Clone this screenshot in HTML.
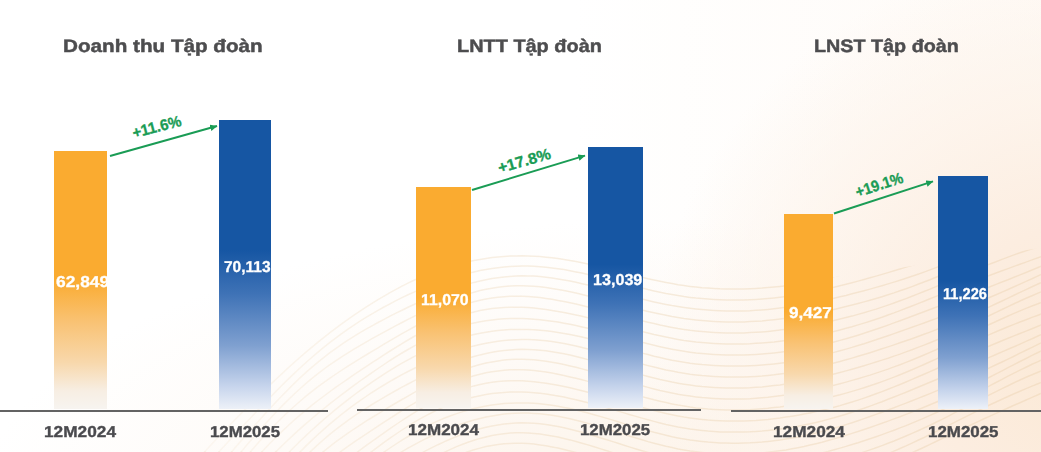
<!DOCTYPE html>
<html>
<head>
<meta charset="utf-8">
<style>
html,body{margin:0;padding:0;}
body{width:1041px;height:452px;position:relative;overflow:hidden;font-family:"Liberation Sans",sans-serif;font-weight:bold;text-rendering:geometricPrecision;
background:
 radial-gradient(ellipse 440px 420px at 1090px 370px, #fbe9d5 0%, #fcede0 35%, rgba(253,242,232,0.75) 65%, rgba(255,255,255,0) 100%),
 radial-gradient(ellipse 680px 280px at 660px 500px, rgba(252,241,229,0.9) 0%, rgba(253,246,239,0.55) 55%, rgba(255,255,255,0) 100%),
 linear-gradient(to right, rgba(255,255,255,0) 55%, rgba(254,246,238,0.5) 100%),
 #ffffff;}
.bar{position:absolute;}
.o{background:linear-gradient(to bottom,#faab30 0%,#faab30 50%,#f9c273 66%,#f8d8ac 82%,#f7eee3 93%,#f7f4f0 100%);}
.b{background:linear-gradient(to bottom,#1656a3 0%,#1656a3 45%,#3e72b6 60%,#7fa0d0 78%,#c6d4ec 92%,#edf1f8 100%);}
.ax{position:absolute;height:2px;background:#636363;}
.t{position:absolute;white-space:nowrap;color:#4d4d4f;font-size:18px;line-height:1;transform-origin:0 0;-webkit-text-stroke:0.45px #4d4d4f;}
.v{position:absolute;white-space:nowrap;color:#fff;font-size:15.8px;line-height:1;transform-origin:0 0;-webkit-text-stroke:0.3px #fff;}
.c{position:absolute;white-space:nowrap;color:#4a4a4e;font-size:15.7px;line-height:1;transform-origin:0 0;-webkit-text-stroke:0.35px #4a4a4e;}
.g{position:absolute;white-space:nowrap;color:#1a9c55;font-size:15.5px;line-height:1;-webkit-text-stroke:0.35px #1a9c55;}
svg{position:absolute;left:0;top:0;}
</style>
</head>
<body>
<svg width="1041" height="452" viewBox="0 0 1041 452" fill="none" stroke="#e6c9a0" stroke-width="1.5" opacity="0.32"><defs><filter id="bl" x="0" y="0" width="1" height="1"><feGaussianBlur stdDeviation="0.45"/></filter><linearGradient id="mg" x1="0" y1="0" x2="1041" y2="0" gradientUnits="userSpaceOnUse"><stop offset="0.18" stop-color="#fff" stop-opacity="0.3"/><stop offset="0.42" stop-color="#fff" stop-opacity="0.8"/><stop offset="0.6" stop-color="#fff" stop-opacity="1"/></linearGradient><mask id="wm" maskUnits="userSpaceOnUse" x="0" y="0" width="1041" height="452"><rect x="0" y="0" width="1041" height="452" fill="url(#mg)"/></mask><clipPath id="wc"><path d="M0,452 L150,452 L280,320 L400,262 L520,248 L640,262 L720,282 L800,282 L870,272 L940,262 L1041,248 L1041,452 Z"/></clipPath></defs><g mask="url(#wm)"><g filter="url(#bl)" clip-path="url(#wc)">
<path d="M192,465.7 L198,459.1 L204,452.5 L210,446.0 L216,439.6 L222,433.2 L228,426.9 L234,420.7 L240,414.6 L246,408.5 L252,402.5 L258,396.5 L264,390.7 L270,384.9 L276,379.2 L282,373.6 L288,368.0 L294,362.6 L300,357.3 L306,352.1 L312,347.1 L318,342.2 L324,337.4 L330,332.7 L336,328.1 L342,323.7 L348,319.4 L354,315.2 L360,311.2 L366,307.2 L372,303.4 L378,299.7 L384,296.2 L390,292.7 L396,289.4 L402,286.2 L408,283.2 L414,280.3 L420,277.6 L426,275.0 L432,272.6 L438,270.4 L444,268.3 L450,266.4 L456,264.7 L462,263.1 L468,261.7 L474,260.5 L480,259.4 L486,258.4 L492,257.6 L498,257.0 L504,256.5 L510,256.1 L516,255.9 L522,255.8 L528,256.0 L534,256.2 L540,256.6 L546,257.2 L552,257.8 L558,258.6 L564,259.5 L570,260.5 L576,261.6 L582,262.8 L588,264.1 L594,265.5 L600,266.9 L606,268.3 L612,269.8 L618,271.3 L624,272.8 L630,274.3 L636,275.8 L642,277.2 L648,278.7 L654,280.0 L660,281.3 L666,282.5 L672,283.6 L678,284.7 L684,285.6 L690,286.4 L696,287.1 L702,287.7 L708,288.1 L714,288.5 L720,288.8 L726,288.9 L732,289.0 L738,289.0 L744,288.9 L750,288.7 L756,288.4 L762,288.1 L768,287.6 L774,287.0 L780,286.4 L786,285.7 L792,284.8 L798,283.9 L804,282.9 L810,281.8 L816,280.6 L822,279.4 L828,278.1 L834,276.6 L840,275.2 L846,273.6 L852,272.0 L858,270.4 L864,268.7 L870,266.9 L876,265.1 L882,263.3 L888,261.4 L894,259.6 L900,257.7 L906,255.8 L912,253.9 L918,251.9 L924,250.0 L930,248.0 L936,246.0 L942,244.0 L948,242.0 L954,239.9 L960,237.8 L966,235.7 L972,233.6 L978,231.4 L984,229.2 L990,226.9 L996,224.6 L1002,222.2 L1008,219.8 L1014,217.4 L1020,214.9 L1026,212.5 L1032,210.0 L1038,207.5 L1044,205.0"/>
<path d="M204,468.0 L210,461.5 L216,455.0 L222,448.5 L228,442.1 L234,435.6 L240,429.2 L246,422.8 L252,416.4 L258,410.0 L264,403.8 L270,397.5 L276,391.4 L282,385.3 L288,379.4 L294,373.6 L300,368.0 L306,362.5 L312,357.2 L318,352.1 L324,347.1 L330,342.4 L336,337.8 L342,333.4 L348,329.1 L354,325.1 L360,321.2 L366,317.4 L372,313.8 L378,310.4 L384,307.0 L390,303.8 L396,300.7 L402,297.7 L408,294.8 L414,292.1 L420,289.5 L426,287.0 L432,284.7 L438,282.4 L444,280.3 L450,278.4 L456,276.5 L462,274.8 L468,273.3 L474,271.9 L480,270.6 L486,269.5 L492,268.5 L498,267.7 L504,267.0 L510,266.5 L516,266.2 L522,266.1 L528,266.1 L534,266.3 L540,266.7 L546,267.2 L552,267.9 L558,268.7 L564,269.6 L570,270.7 L576,271.9 L582,273.1 L588,274.5 L594,275.9 L600,277.4 L606,278.9 L612,280.4 L618,282.0 L624,283.6 L630,285.1 L636,286.6 L642,288.1 L648,289.6 L654,290.9 L660,292.2 L666,293.5 L672,294.6 L678,295.6 L684,296.6 L690,297.4 L696,298.1 L702,298.6 L708,299.1 L714,299.5 L720,299.8 L726,300.0 L732,300.0 L738,300.0 L744,299.9 L750,299.7 L756,299.4 L762,299.0 L768,298.5 L774,297.9 L780,297.2 L786,296.5 L792,295.6 L798,294.7 L804,293.6 L810,292.5 L816,291.3 L822,290.0 L828,288.7 L834,287.3 L840,285.8 L846,284.3 L852,282.7 L858,281.1 L864,279.5 L870,277.8 L876,276.1 L882,274.4 L888,272.6 L894,270.8 L900,269.0 L906,267.1 L912,265.2 L918,263.3 L924,261.3 L930,259.3 L936,257.2 L942,255.1 L948,252.9 L954,250.7 L960,248.4 L966,246.1 L972,243.7 L978,241.3 L984,238.8 L990,236.3 L996,233.7 L1002,231.1 L1008,228.5 L1014,225.9 L1020,223.3 L1026,220.7 L1032,218.1 L1038,215.6 L1044,213.2"/>
<path d="M216,469.6 L222,462.8 L228,455.9 L234,449.0 L240,442.1 L246,435.2 L252,428.4 L258,421.7 L264,415.0 L270,408.4 L276,402.0 L282,395.7 L288,389.6 L294,383.6 L300,377.9 L306,372.4 L312,367.1 L318,362.1 L324,357.3 L330,352.7 L336,348.3 L342,344.2 L348,340.2 L354,336.3 L360,332.7 L366,329.2 L372,325.8 L378,322.5 L384,319.3 L390,316.2 L396,313.1 L402,310.2 L408,307.3 L414,304.5 L420,301.8 L426,299.2 L432,296.7 L438,294.2 L444,291.9 L450,289.8 L456,287.7 L462,285.8 L468,284.1 L474,282.4 L480,281.0 L486,279.7 L492,278.6 L498,277.7 L504,276.9 L510,276.4 L516,276.0 L522,275.8 L528,275.9 L534,276.1 L540,276.6 L546,277.2 L552,277.9 L558,278.9 L564,279.9 L570,281.1 L576,282.3 L582,283.7 L588,285.1 L594,286.6 L600,288.1 L606,289.7 L612,291.3 L618,292.9 L624,294.5 L630,296.0 L636,297.6 L642,299.1 L648,300.5 L654,301.9 L660,303.2 L666,304.4 L672,305.6 L678,306.6 L684,307.5 L690,308.3 L696,309.0 L702,309.6 L708,310.1 L714,310.5 L720,310.8 L726,311.0 L732,311.0 L738,311.0 L744,310.9 L750,310.7 L756,310.3 L762,309.9 L768,309.4 L774,308.8 L780,308.1 L786,307.3 L792,306.4 L798,305.5 L804,304.4 L810,303.3 L816,302.1 L822,300.9 L828,299.6 L834,298.2 L840,296.8 L846,295.4 L852,293.8 L858,292.3 L864,290.7 L870,289.1 L876,287.4 L882,285.7 L888,283.9 L894,282.1 L900,280.2 L906,278.3 L912,276.3 L918,274.2 L924,272.1 L930,269.9 L936,267.6 L942,265.3 L948,262.9 L954,260.5 L960,258.0 L966,255.4 L972,252.8 L978,250.2 L984,247.6 L990,244.9 L996,242.2 L1002,239.6 L1008,237.0 L1014,234.4 L1020,231.8 L1026,229.4 L1032,227.0 L1038,224.6 L1044,222.4"/>
<path d="M228,467.8 L234,460.5 L240,453.3 L246,446.1 L252,439.1 L258,432.1 L264,425.3 L270,418.7 L276,412.3 L282,406.0 L288,400.0 L294,394.2 L300,388.7 L306,383.4 L312,378.4 L318,373.6 L324,369.0 L330,364.7 L336,360.6 L342,356.6 L348,352.8 L354,349.1 L360,345.6 L366,342.1 L372,338.7 L378,335.4 L384,332.1 L390,328.9 L396,325.7 L402,322.5 L408,319.4 L414,316.4 L420,313.4 L426,310.5 L432,307.7 L438,305.1 L444,302.5 L450,300.1 L456,297.9 L462,295.8 L468,293.9 L474,292.2 L480,290.6 L486,289.3 L492,288.2 L498,287.3 L504,286.6 L510,286.1 L516,285.8 L522,285.8 L528,285.9 L534,286.3 L540,286.8 L546,287.6 L552,288.4 L558,289.4 L564,290.6 L570,291.8 L576,293.1 L582,294.5 L588,296.0 L594,297.5 L600,299.1 L606,300.6 L612,302.2 L618,303.8 L624,305.4 L630,306.9 L636,308.5 L642,310.0 L648,311.4 L654,312.8 L660,314.1 L666,315.3 L672,316.5 L678,317.5 L684,318.5 L690,319.3 L696,320.0 L702,320.6 L708,321.1 L714,321.5 L720,321.8 L726,322.0 L732,322.0 L738,322.0 L744,321.9 L750,321.6 L756,321.3 L762,320.9 L768,320.3 L774,319.7 L780,319.0 L786,318.3 L792,317.4 L798,316.4 L804,315.4 L810,314.4 L816,313.2 L822,312.0 L828,310.7 L834,309.4 L840,308.0 L846,306.6 L852,305.1 L858,303.5 L864,301.9 L870,300.2 L876,298.5 L882,296.7 L888,294.8 L894,292.9 L900,290.8 L906,288.8 L912,286.6 L918,284.3 L924,282.0 L930,279.7 L936,277.2 L942,274.7 L948,272.2 L954,269.6 L960,267.0 L966,264.4 L972,261.7 L978,259.1 L984,256.5 L990,253.9 L996,251.3 L1002,248.8 L1008,246.4 L1014,244.0 L1020,241.7 L1026,239.4 L1032,237.3 L1038,235.2 L1044,233.2"/>
<path d="M240,464.1 L246,456.9 L252,449.9 L258,443.1 L264,436.4 L270,430.0 L276,423.8 L282,417.8 L288,412.0 L294,406.5 L300,401.2 L306,396.2 L312,391.3 L318,386.7 L324,382.3 L330,378.1 L336,374.0 L342,370.0 L348,366.1 L354,362.3 L360,358.6 L366,355.0 L372,351.4 L378,347.8 L384,344.2 L390,340.7 L396,337.2 L402,333.7 L408,330.3 L414,327.0 L420,323.7 L426,320.6 L432,317.6 L438,314.8 L444,312.1 L450,309.6 L456,307.3 L462,305.3 L468,303.4 L474,301.7 L480,300.3 L486,299.0 L492,298.0 L498,297.2 L504,296.7 L510,296.3 L516,296.2 L522,296.3 L528,296.5 L534,297.0 L540,297.6 L546,298.4 L552,299.3 L558,300.4 L564,301.5 L570,302.8 L576,304.1 L582,305.5 L588,306.9 L594,308.4 L600,310.0 L606,311.5 L612,313.1 L618,314.7 L624,316.2 L630,317.8 L636,319.3 L642,320.8 L648,322.2 L654,323.6 L660,325.0 L666,326.2 L672,327.4 L678,328.5 L684,329.4 L690,330.3 L696,331.0 L702,331.6 L708,332.1 L714,332.5 L720,332.8 L726,333.0 L732,333.0 L738,333.0 L744,332.9 L750,332.6 L756,332.3 L762,331.9 L768,331.4 L774,330.8 L780,330.1 L786,329.3 L792,328.5 L798,327.6 L804,326.6 L810,325.5 L816,324.4 L822,323.2 L828,321.9 L834,320.5 L840,319.1 L846,317.6 L852,316.1 L858,314.4 L864,312.7 L870,310.9 L876,309.1 L882,307.1 L888,305.1 L894,303.0 L900,300.8 L906,298.6 L912,296.3 L918,293.9 L924,291.5 L930,289.1 L936,286.6 L942,284.0 L948,281.5 L954,279.0 L960,276.4 L966,273.9 L972,271.4 L978,268.9 L984,266.4 L990,264.0 L996,261.7 L1002,259.4 L1008,257.1 L1014,254.9 L1020,252.8 L1026,250.7 L1032,248.7 L1038,246.7 L1044,244.7"/>
<path d="M246,469.1 L252,462.3 L258,455.7 L264,449.4 L270,443.2 L276,437.2 L282,431.4 L288,425.7 L294,420.3 L300,415.1 L306,410.1 L312,405.2 L318,400.5 L324,396.0 L330,391.5 L336,387.2 L342,383.0 L348,378.8 L354,374.7 L360,370.6 L366,366.6 L372,362.7 L378,358.8 L384,354.9 L390,351.0 L396,347.3 L402,343.6 L408,340.0 L414,336.5 L420,333.2 L426,330.1 L432,327.1 L438,324.2 L444,321.6 L450,319.2 L456,317.1 L462,315.1 L468,313.4 L474,311.9 L480,310.6 L486,309.5 L492,308.6 L498,308.0 L504,307.5 L510,307.3 L516,307.2 L522,307.3 L528,307.6 L534,308.1 L540,308.7 L546,309.5 L552,310.4 L558,311.4 L564,312.5 L570,313.7 L576,315.0 L582,316.3 L588,317.7 L594,319.2 L600,320.7 L606,322.2 L612,323.8 L618,325.3 L624,326.9 L630,328.5 L636,330.0 L642,331.5 L648,333.0 L654,334.5 L660,335.8 L666,337.1 L672,338.3 L678,339.4 L684,340.4 L690,341.2 L696,342.0 L702,342.6 L708,343.1 L714,343.5 L720,343.8 L726,344.0 L732,344.1 L738,344.0 L744,343.9 L750,343.7 L756,343.3 L762,342.9 L768,342.4 L774,341.9 L780,341.2 L786,340.4 L792,339.6 L798,338.7 L804,337.7 L810,336.6 L816,335.4 L822,334.2 L828,332.8 L834,331.4 L840,329.9 L846,328.3 L852,326.7 L858,324.9 L864,323.1 L870,321.2 L876,319.2 L882,317.2 L888,315.0 L894,312.9 L900,310.6 L906,308.3 L912,306.0 L918,303.6 L924,301.2 L930,298.8 L936,296.4 L942,294.0 L948,291.6 L954,289.2 L960,286.8 L966,284.5 L972,282.1 L978,279.8 L984,277.5 L990,275.3 L996,273.0 L1002,270.8 L1008,268.6 L1014,266.4 L1020,264.3 L1026,262.1 L1032,259.9 L1038,257.8 L1044,255.6"/>
<path d="M264,463.8 L270,457.6 L276,451.6 L282,445.7 L288,440.0 L294,434.4 L300,428.9 L306,423.6 L312,418.5 L318,413.4 L324,408.5 L330,403.7 L336,399.0 L342,394.4 L348,389.8 L354,385.4 L360,381.0 L366,376.8 L372,372.6 L378,368.5 L384,364.5 L390,360.5 L396,356.7 L402,353.0 L408,349.5 L414,346.1 L420,342.9 L426,339.8 L432,337.0 L438,334.4 L444,331.9 L450,329.7 L456,327.7 L462,325.9 L468,324.3 L474,322.9 L480,321.7 L486,320.7 L492,319.9 L498,319.3 L504,318.8 L510,318.6 L516,318.5 L522,318.5 L528,318.8 L534,319.2 L540,319.7 L546,320.4 L552,321.2 L558,322.1 L564,323.2 L570,324.3 L576,325.5 L582,326.9 L588,328.2 L594,329.7 L600,331.2 L606,332.7 L612,334.3 L618,335.9 L624,337.5 L630,339.1 L636,340.7 L642,342.3 L648,343.8 L654,345.3 L660,346.7 L666,348.0 L672,349.2 L678,350.3 L684,351.3 L690,352.2 L696,353.0 L702,353.6 L708,354.1 L714,354.5 L720,354.8 L726,355.0 L732,355.1 L738,355.1 L744,354.9 L750,354.7 L756,354.4 L762,354.0 L768,353.5 L774,352.9 L780,352.2 L786,351.5 L792,350.6 L798,349.6 L804,348.6 L810,347.4 L816,346.2 L822,344.9 L828,343.5 L834,342.0 L840,340.4 L846,338.7 L852,337.0 L858,335.2 L864,333.3 L870,331.3 L876,329.3 L882,327.2 L888,325.1 L894,322.9 L900,320.7 L906,318.5 L912,316.3 L918,314.0 L924,311.7 L930,309.5 L936,307.2 L942,304.9 L948,302.6 L954,300.4 L960,298.1 L966,295.8 L972,293.6 L978,291.3 L984,289.0 L990,286.7 L996,284.4 L1002,282.0 L1008,279.7 L1014,277.3 L1020,274.9 L1026,272.5 L1032,270.0 L1038,267.5 L1044,265.1"/>
<path d="M276,465.5 L282,459.3 L288,453.2 L294,447.2 L300,441.3 L306,435.6 L312,430.0 L318,424.6 L324,419.3 L330,414.2 L336,409.2 L342,404.3 L348,399.6 L354,395.0 L360,390.6 L366,386.3 L372,382.1 L378,378.1 L384,374.1 L390,370.3 L396,366.7 L402,363.2 L408,359.8 L414,356.6 L420,353.6 L426,350.8 L432,348.1 L438,345.6 L444,343.3 L450,341.2 L456,339.3 L462,337.5 L468,336.0 L474,334.6 L480,333.3 L486,332.3 L492,331.3 L498,330.6 L504,330.0 L510,329.6 L516,329.4 L522,329.4 L528,329.5 L534,329.8 L540,330.2 L546,330.8 L552,331.6 L558,332.4 L564,333.5 L570,334.6 L576,335.8 L582,337.1 L588,338.6 L594,340.1 L600,341.6 L606,343.2 L612,344.8 L618,346.5 L624,348.2 L630,349.8 L636,351.5 L642,353.1 L648,354.6 L654,356.2 L660,357.6 L666,358.9 L672,360.2 L678,361.3 L684,362.3 L690,363.2 L696,363.9 L702,364.6 L708,365.1 L714,365.5 L720,365.8 L726,366.0 L732,366.1 L738,366.1 L744,366.0 L750,365.7 L756,365.4 L762,365.0 L768,364.5 L774,363.9 L780,363.2 L786,362.4 L792,361.4 L798,360.4 L804,359.3 L810,358.1 L816,356.8 L822,355.5 L828,354.0 L834,352.4 L840,350.8 L846,349.1 L852,347.4 L858,345.5 L864,343.7 L870,341.7 L876,339.8 L882,337.7 L888,335.7 L894,333.6 L900,331.5 L906,329.4 L912,327.3 L918,325.1 L924,323.0 L930,320.8 L936,318.6 L942,316.3 L948,314.1 L954,311.8 L960,309.5 L966,307.1 L972,304.7 L978,302.3 L984,299.8 L990,297.3 L996,294.7 L1002,292.1 L1008,289.5 L1014,286.8 L1020,284.1 L1026,281.4 L1032,278.7 L1038,275.9 L1044,273.2"/>
<path d="M288,464.5 L294,458.1 L300,451.9 L306,445.9 L312,440.1 L318,434.5 L324,429.1 L330,423.9 L336,418.9 L342,414.0 L348,409.4 L354,404.9 L360,400.6 L366,396.5 L372,392.5 L378,388.7 L384,385.0 L390,381.4 L396,378.0 L402,374.7 L408,371.5 L414,368.5 L420,365.6 L426,362.8 L432,360.2 L438,357.7 L444,355.3 L450,353.1 L456,351.1 L462,349.2 L468,347.5 L474,345.9 L480,344.5 L486,343.3 L492,342.2 L498,341.3 L504,340.6 L510,340.0 L516,339.7 L522,339.5 L528,339.6 L534,339.8 L540,340.2 L546,340.8 L552,341.6 L558,342.5 L564,343.6 L570,344.7 L576,346.0 L582,347.5 L588,348.9 L594,350.5 L600,352.1 L606,353.8 L612,355.5 L618,357.2 L624,359.0 L630,360.7 L636,362.3 L642,364.0 L648,365.6 L654,367.1 L660,368.5 L666,369.9 L672,371.1 L678,372.3 L684,373.3 L690,374.2 L696,374.9 L702,375.6 L708,376.1 L714,376.5 L720,376.8 L726,377.0 L732,377.1 L738,377.1 L744,377.0 L750,376.7 L756,376.4 L762,376.0 L768,375.4 L774,374.8 L780,374.0 L786,373.2 L792,372.2 L798,371.2 L804,370.0 L810,368.8 L816,367.5 L822,366.1 L828,364.6 L834,363.1 L840,361.5 L846,359.8 L852,358.1 L858,356.3 L864,354.5 L870,352.7 L876,350.8 L882,348.8 L888,346.9 L894,344.9 L900,342.8 L906,340.8 L912,338.7 L918,336.5 L924,334.3 L930,332.1 L936,329.8 L942,327.4 L948,325.0 L954,322.5 L960,320.0 L966,317.5 L972,314.8 L978,312.1 L984,309.4 L990,306.6 L996,303.8 L1002,301.0 L1008,298.1 L1014,295.2 L1020,292.4 L1026,289.6 L1032,286.8 L1038,284.0 L1044,281.4"/>
<path d="M294,468.1 L300,461.9 L306,455.8 L312,450.1 L318,444.6 L324,439.3 L330,434.2 L336,429.4 L342,424.8 L348,420.4 L354,416.2 L360,412.2 L366,408.3 L372,404.5 L378,400.9 L384,397.3 L390,393.8 L396,390.5 L402,387.2 L408,384.0 L414,380.9 L420,377.9 L426,374.9 L432,372.2 L438,369.5 L444,366.9 L450,364.5 L456,362.3 L462,360.2 L468,358.2 L474,356.5 L480,354.9 L486,353.5 L492,352.3 L498,351.3 L504,350.5 L510,349.9 L516,349.5 L522,349.3 L528,349.4 L534,349.7 L540,350.2 L546,350.8 L552,351.7 L558,352.7 L564,353.8 L570,355.1 L576,356.5 L582,358.0 L588,359.6 L594,361.2 L600,362.9 L606,364.6 L612,366.4 L618,368.1 L624,369.9 L630,371.6 L636,373.3 L642,374.9 L648,376.5 L654,378.0 L660,379.5 L666,380.8 L672,382.1 L678,383.2 L684,384.2 L690,385.1 L696,385.9 L702,386.6 L708,387.1 L714,387.5 L720,387.8 L726,388.0 L732,388.1 L738,388.1 L744,387.9 L750,387.7 L756,387.3 L762,386.9 L768,386.3 L774,385.6 L780,384.9 L786,384.0 L792,383.0 L798,382.0 L804,380.9 L810,379.6 L816,378.3 L822,377.0 L828,375.5 L834,374.0 L840,372.5 L846,370.9 L852,369.2 L858,367.5 L864,365.7 L870,363.9 L876,362.0 L882,360.1 L888,358.2 L894,356.1 L900,354.1 L906,351.9 L912,349.7 L918,347.4 L924,345.1 L930,342.7 L936,340.2 L942,337.6 L948,335.0 L954,332.3 L960,329.6 L966,326.8 L972,323.9 L978,321.1 L984,318.2 L990,315.3 L996,312.4 L1002,309.5 L1008,306.6 L1014,303.8 L1020,301.0 L1026,298.3 L1032,295.7 L1038,293.1 L1044,290.7"/>
<path d="M306,466.9 L312,461.3 L318,456.1 L324,451.1 L330,446.3 L336,441.7 L342,437.3 L348,433.1 L354,429.0 L360,425.1 L366,421.2 L372,417.5 L378,413.8 L384,410.1 L390,406.5 L396,403.0 L402,399.5 L408,396.1 L414,392.7 L420,389.4 L426,386.3 L432,383.2 L438,380.3 L444,377.5 L450,374.9 L456,372.4 L462,370.1 L468,368.1 L474,366.2 L480,364.5 L486,363.1 L492,361.9 L498,360.9 L504,360.1 L510,359.6 L516,359.3 L522,359.3 L528,359.4 L534,359.8 L540,360.4 L546,361.2 L552,362.2 L558,363.3 L564,364.5 L570,365.9 L576,367.3 L582,368.9 L588,370.5 L594,372.1 L600,373.8 L606,375.6 L612,377.3 L618,379.0 L624,380.8 L630,382.5 L636,384.2 L642,385.8 L648,387.4 L654,388.9 L660,390.4 L666,391.7 L672,393.0 L678,394.2 L684,395.2 L690,396.1 L696,396.9 L702,397.6 L708,398.1 L714,398.5 L720,398.8 L726,399.0 L732,399.1 L738,399.1 L744,398.9 L750,398.7 L756,398.3 L762,397.8 L768,397.3 L774,396.6 L780,395.8 L786,395.0 L792,394.0 L798,393.0 L804,391.9 L810,390.7 L816,389.4 L822,388.1 L828,386.7 L834,385.2 L840,383.7 L846,382.1 L852,380.4 L858,378.7 L864,376.9 L870,375.1 L876,373.1 L882,371.1 L888,369.1 L894,366.9 L900,364.7 L906,362.4 L912,360.0 L918,357.5 L924,355.0 L930,352.4 L936,349.7 L942,347.0 L948,344.2 L954,341.4 L960,338.6 L966,335.7 L972,332.8 L978,330.0 L984,327.1 L990,324.3 L996,321.5 L1002,318.7 L1008,316.0 L1014,313.4 L1020,310.9 L1026,308.4 L1032,306.0 L1038,303.7 L1044,301.5"/>
<path d="M318,469.2 L324,464.4 L330,459.7 L336,455.1 L342,450.7 L348,446.4 L354,442.2 L360,438.1 L366,434.1 L372,430.1 L378,426.1 L384,422.2 L390,418.3 L396,414.5 L402,410.7 L408,406.9 L414,403.3 L420,399.8 L426,396.4 L432,393.1 L438,390.0 L444,387.1 L450,384.4 L456,381.9 L462,379.6 L468,377.6 L474,375.7 L480,374.2 L486,372.8 L492,371.7 L498,370.9 L504,370.2 L510,369.8 L516,369.7 L522,369.8 L528,370.1 L534,370.6 L540,371.2 L546,372.1 L552,373.1 L558,374.2 L564,375.5 L570,376.9 L576,378.3 L582,379.8 L588,381.4 L594,383.1 L600,384.7 L606,386.4 L612,388.2 L618,389.9 L624,391.6 L630,393.3 L636,395.0 L642,396.6 L648,398.2 L654,399.8 L660,401.2 L666,402.6 L672,403.9 L678,405.1 L684,406.1 L690,407.1 L696,407.9 L702,408.5 L708,409.1 L714,409.5 L720,409.8 L726,410.0 L732,410.1 L738,410.1 L744,409.9 L750,409.7 L756,409.3 L762,408.8 L768,408.3 L774,407.6 L780,406.9 L786,406.0 L792,405.1 L798,404.1 L804,403.0 L810,401.8 L816,400.6 L822,399.2 L828,397.8 L834,396.3 L840,394.8 L846,393.1 L852,391.4 L858,389.6 L864,387.7 L870,385.8 L876,383.7 L882,381.6 L888,379.4 L894,377.1 L900,374.7 L906,372.2 L912,369.7 L918,367.1 L924,364.5 L930,361.8 L936,359.1 L942,356.3 L948,353.6 L954,350.8 L960,348.0 L966,345.2 L972,342.5 L978,339.8 L984,337.1 L990,334.4 L996,331.8 L1002,329.3 L1008,326.8 L1014,324.4 L1020,322.0 L1026,319.7 L1032,317.4 L1038,315.2 L1044,313.0"/>
<path d="M336,468.3 L342,463.6 L348,459.0 L354,454.5 L360,450.1 L366,445.7 L372,441.4 L378,437.1 L384,432.8 L390,428.7 L396,424.5 L402,420.5 L408,416.6 L414,412.9 L420,409.2 L426,405.8 L432,402.5 L438,399.5 L444,396.6 L450,394.0 L456,391.6 L462,389.5 L468,387.6 L474,385.9 L480,384.5 L486,383.3 L492,382.3 L498,381.6 L504,381.1 L510,380.8 L516,380.7 L522,380.8 L528,381.2 L534,381.7 L540,382.4 L546,383.2 L552,384.2 L558,385.3 L564,386.5 L570,387.8 L576,389.2 L582,390.7 L588,392.2 L594,393.8 L600,395.4 L606,397.1 L612,398.8 L618,400.6 L624,402.3 L630,404.0 L636,405.7 L642,407.4 L648,409.0 L654,410.6 L660,412.1 L666,413.5 L672,414.8 L678,416.0 L684,417.1 L690,418.0 L696,418.8 L702,419.5 L708,420.1 L714,420.5 L720,420.8 L726,421.0 L732,421.1 L738,421.1 L744,421.0 L750,420.7 L756,420.4 L762,419.9 L768,419.4 L774,418.7 L780,418.0 L786,417.1 L792,416.2 L798,415.2 L804,414.1 L810,412.9 L816,411.6 L822,410.2 L828,408.8 L834,407.2 L840,405.6 L846,403.8 L852,402.0 L858,400.1 L864,398.1 L870,396.0 L876,393.8 L882,391.6 L888,389.3 L894,386.9 L900,384.5 L906,382.0 L912,379.4 L918,376.8 L924,374.2 L930,371.6 L936,369.0 L942,366.3 L948,363.7 L954,361.0 L960,358.4 L966,355.8 L972,353.3 L978,350.7 L984,348.2 L990,345.7 L996,343.2 L1002,340.7 L1008,338.3 L1014,335.9 L1020,333.5 L1026,331.1 L1032,328.7 L1038,326.3 L1044,323.9"/>
<path d="M354,465.2 L360,460.5 L366,455.8 L372,451.3 L378,446.8 L384,442.4 L390,438.1 L396,434.0 L402,430.0 L408,426.1 L414,422.4 L420,418.9 L426,415.6 L432,412.5 L438,409.6 L444,406.9 L450,404.5 L456,402.3 L462,400.3 L468,398.5 L474,397.0 L480,395.7 L486,394.6 L492,393.6 L498,392.9 L504,392.4 L510,392.1 L516,392.0 L522,392.0 L528,392.3 L534,392.7 L540,393.3 L546,394.1 L552,395.0 L558,396.0 L564,397.1 L570,398.4 L576,399.7 L582,401.2 L588,402.7 L594,404.3 L600,405.9 L606,407.6 L612,409.4 L618,411.1 L624,412.9 L630,414.7 L636,416.4 L642,418.1 L648,419.8 L654,421.4 L660,422.9 L666,424.4 L672,425.7 L678,427.0 L684,428.0 L690,429.0 L696,429.8 L702,430.5 L708,431.1 L714,431.5 L720,431.9 L726,432.1 L732,432.1 L738,432.1 L744,432.0 L750,431.8 L756,431.4 L762,431.0 L768,430.4 L774,429.8 L780,429.0 L786,428.2 L792,427.2 L798,426.2 L804,425.0 L810,423.8 L816,422.4 L822,421.0 L828,419.4 L834,417.8 L840,416.0 L846,414.2 L852,412.3 L858,410.3 L864,408.3 L870,406.1 L876,403.9 L882,401.7 L888,399.3 L894,397.0 L900,394.6 L906,392.2 L912,389.7 L918,387.2 L924,384.7 L930,382.2 L936,379.7 L942,377.2 L948,374.7 L954,372.2 L960,369.7 L966,367.2 L972,364.7 L978,362.2 L984,359.6 L990,357.1 L996,354.5 L1002,351.9 L1008,349.3 L1014,346.7 L1020,344.1 L1026,341.4 L1032,338.7 L1038,336.0 L1044,333.3"/>
<path d="M366,465.3 L372,460.8 L378,456.4 L384,452.1 L390,448.0 L396,444.0 L402,440.1 L408,436.5 L414,433.0 L420,429.7 L426,426.6 L432,423.6 L438,420.9 L444,418.3 L450,416.0 L456,413.9 L462,411.9 L468,410.2 L474,408.6 L480,407.3 L486,406.1 L492,405.1 L498,404.2 L504,403.6 L510,403.2 L516,402.9 L522,402.9 L528,403.0 L534,403.3 L540,403.8 L546,404.5 L552,405.3 L558,406.3 L564,407.4 L570,408.6 L576,410.0 L582,411.5 L588,413.0 L594,414.7 L600,416.4 L606,418.1 L612,419.9 L618,421.7 L624,423.6 L630,425.4 L636,427.2 L642,428.9 L648,430.6 L654,432.3 L660,433.8 L666,435.3 L672,436.7 L678,437.9 L684,439.0 L690,440.0 L696,440.8 L702,441.5 L708,442.1 L714,442.5 L720,442.9 L726,443.1 L732,443.2 L738,443.2 L744,443.0 L750,442.8 L756,442.4 L762,442.0 L768,441.4 L774,440.7 L780,440.0 L786,439.1 L792,438.1 L798,437.0 L804,435.7 L810,434.4 L816,433.0 L822,431.5 L828,429.9 L834,428.2 L840,426.5 L846,424.6 L852,422.7 L858,420.7 L864,418.6 L870,416.5 L876,414.4 L882,412.2 L888,410.0 L894,407.7 L900,405.4 L906,403.1 L912,400.7 L918,398.4 L924,396.0 L930,393.6 L936,391.1 L942,388.6 L948,386.2 L954,383.6 L960,381.1 L966,378.5 L972,375.8 L978,373.1 L984,370.4 L990,367.6 L996,364.8 L1002,362.0 L1008,359.1 L1014,356.2 L1020,353.2 L1026,350.3 L1032,347.3 L1038,344.4 L1044,341.5"/>
<path d="M378,467.1 L384,463.0 L390,459.1 L396,455.3 L402,451.7 L408,448.2 L414,444.8 L420,441.6 L426,438.6 L432,435.7 L438,432.9 L444,430.3 L450,427.9 L456,425.7 L462,423.6 L468,421.7 L474,420.0 L480,418.5 L486,417.1 L492,415.9 L498,414.9 L504,414.1 L510,413.6 L516,413.2 L522,413.0 L528,413.1 L534,413.4 L540,413.8 L546,414.5 L552,415.3 L558,416.3 L564,417.5 L570,418.8 L576,420.2 L582,421.8 L588,423.4 L594,425.1 L600,426.9 L606,428.7 L612,430.6 L618,432.5 L624,434.3 L630,436.2 L636,438.0 L642,439.8 L648,441.6 L654,443.2 L660,444.8 L666,446.3 L672,447.6 L678,448.9 L684,450.0 L690,451.0 L696,451.8 L702,452.5 L708,453.1 L714,453.5 L720,453.9 L726,454.1 L732,454.2 L738,454.2 L744,454.0 L750,453.8 L756,453.4 L762,452.9 L768,452.3 L774,451.6 L780,450.8 L786,449.9 L792,448.8 L798,447.7 L804,446.5 L810,445.1 L816,443.7 L822,442.2 L828,440.5 L834,438.9 L840,437.1 L846,435.3 L852,433.4 L858,431.5 L864,429.5 L870,427.5 L876,425.4 L882,423.3 L888,421.1 L894,418.9 L900,416.7 L906,414.4 L912,412.1 L918,409.7 L924,407.3 L930,404.8 L936,402.3 L942,399.7 L948,397.1 L954,394.4 L960,391.6 L966,388.8 L972,385.9 L978,383.0 L984,380.0 L990,377.0 L996,373.9 L1002,370.8 L1008,367.7 L1014,364.6 L1020,361.5 L1026,358.5 L1032,355.4 L1038,352.5 L1044,349.6"/>
<path d="M396,467.8 L402,464.2 L408,460.6 L414,457.2 L420,453.9 L426,450.7 L432,447.7 L438,444.7 L444,441.9 L450,439.3 L456,436.8 L462,434.5 L468,432.4 L474,430.5 L480,428.8 L486,427.3 L492,426.0 L498,424.9 L504,424.0 L510,423.4 L516,423.0 L522,422.8 L528,422.9 L534,423.2 L540,423.8 L546,424.5 L552,425.4 L558,426.5 L564,427.8 L570,429.2 L576,430.7 L582,432.3 L588,434.0 L594,435.8 L600,437.7 L606,439.5 L612,441.4 L618,443.3 L624,445.2 L630,447.1 L636,449.0 L642,450.8 L648,452.5 L654,454.2 L660,455.7 L666,457.2 L672,458.6 L678,459.8 L684,460.9 L690,461.9 L696,462.8 L702,463.5 L708,464.1 L714,464.5 L720,464.9 L726,465.1 L732,465.2 L738,465.2 L744,465.0 L750,464.7 L756,464.3 L762,463.8 L768,463.2 L774,462.5 L780,461.7 L786,460.7 L792,459.7 L798,458.5 L804,457.3 L810,455.9 L816,454.5 L822,453.0 L828,451.5 L834,449.8 L840,448.1 L846,446.4 L852,444.5 L858,442.7 L864,440.7 L870,438.7 L876,436.7 L882,434.6 L888,432.4 L894,430.2 L900,427.9 L906,425.6 L912,423.1 L918,420.6 L924,418.1 L930,415.4 L936,412.7 L942,409.9 L948,407.0 L954,404.1 L960,401.1 L966,398.1 L972,395.0 L978,391.9 L984,388.8 L990,385.6 L996,382.5 L1002,379.3 L1008,376.2 L1014,373.2 L1020,370.1 L1026,367.2 L1032,364.3 L1038,361.6 L1044,358.9"/>
<path d="M414,469.0 L420,465.5 L426,462.0 L432,458.7 L438,455.5 L444,452.5 L450,449.6 L456,446.9 L462,444.5 L468,442.2 L474,440.2 L480,438.4 L486,436.9 L492,435.6 L498,434.5 L504,433.7 L510,433.1 L516,432.8 L522,432.8 L528,433.0 L534,433.4 L540,434.0 L546,434.9 L552,435.9 L558,437.1 L564,438.5 L570,439.9 L576,441.5 L582,443.2 L588,444.9 L594,446.7 L600,448.6 L606,450.5 L612,452.4 L618,454.3 L624,456.2 L630,458.0 L636,459.9 L642,461.7 L648,463.4 L654,465.1 L660,466.6 L666,468.1 L672,469.5 L798,469.5 L804,468.3 L810,467.0 L816,465.6 L822,464.1 L828,462.6 L834,461.0 L840,459.3 L846,457.6 L852,455.8 L858,453.9 L864,451.9 L870,449.9 L876,447.8 L882,445.6 L888,443.3 L894,441.0 L900,438.5 L906,436.0 L912,433.4 L918,430.7 L924,428.0 L930,425.2 L936,422.3 L942,419.3 L948,416.3 L954,413.2 L960,410.1 L966,407.0 L972,403.9 L978,400.8 L984,397.7 L990,394.6 L996,391.6 L1002,388.6 L1008,385.7 L1014,382.8 L1020,380.0 L1026,377.3 L1032,374.7 L1038,372.2 L1044,369.7"/>
<path d="M432,468.6 L438,465.2 L444,462.1 L450,459.1 L456,456.4 L462,453.9 L468,451.7 L474,449.8 L480,448.1 L486,446.6 L492,445.4 L498,444.5 L504,443.8 L510,443.4 L516,443.2 L522,443.3 L528,443.6 L534,444.1 L540,444.9 L546,445.8 L552,446.9 L558,448.1 L564,449.4 L570,450.9 L576,452.5 L582,454.2 L588,455.9 L594,457.7 L600,459.5 L606,461.4 L612,463.2 L618,465.1 L624,467.0 L630,468.9 L846,468.6 L852,466.7 L858,464.8 L864,462.7 L870,460.6 L876,458.3 L882,456.0 L888,453.6 L894,451.1 L900,448.5 L906,445.9 L912,443.1 L918,440.3 L924,437.5 L930,434.5 L936,431.6 L942,428.6 L948,425.6 L954,422.6 L960,419.6 L966,416.6 L972,413.6 L978,410.6 L984,407.7 L990,404.8 L996,402.0 L1002,399.2 L1008,396.5 L1014,393.8 L1020,391.2 L1026,388.6 L1032,386.1 L1038,383.7 L1044,381.3"/>
<path d="M450,468.7 L456,466.1 L462,463.8 L468,461.8 L474,459.9 L480,458.4 L486,457.1 L492,456.0 L498,455.2 L504,454.7 L510,454.3 L516,454.2 L522,454.3 L528,454.7 L534,455.2 L540,456.0 L546,456.9 L552,457.9 L558,459.1 L564,460.4 L570,461.8 L576,463.4 L582,465.0 L588,466.7 L594,468.4 L876,468.5 L882,466.0 L888,463.5 L894,460.9 L900,458.3 L906,455.6 L912,452.8 L918,450.0 L924,447.2 L930,444.4 L936,441.5 L942,438.6 L948,435.7 L954,432.9 L960,430.0 L966,427.2 L972,424.4 L978,421.6 L984,418.8 L990,416.1 L996,413.4 L1002,410.7 L1008,408.0 L1014,405.3 L1020,402.7 L1026,400.0 L1032,397.4 L1038,394.7 L1044,392.1"/>
</g></g></svg>

<!-- titles -->
<div class="t" style="left:62.92px;top:36.8px;transform:scaleX(1.148)">Doanh thu Tập đoàn</div>
<div class="t" style="left:457.41px;top:36.5px;transform:scaleX(1.106)">LNTT Tập đoàn</div>
<div class="t" style="left:813.97px;top:36.8px;transform:scaleX(1.097)">LNST Tập đoàn</div>

<!-- bars -->
<div class="bar o" style="left:54px;top:151px;width:52.7px;height:258px"></div>
<div class="bar b" style="left:219px;top:120px;width:52px;height:289px"></div>
<div class="bar o" style="left:416px;top:187px;width:55px;height:221px"></div>
<div class="bar b" style="left:588px;top:147px;width:55px;height:261px"></div>
<div class="bar o" style="left:784px;top:214px;width:48.8px;height:195px"></div>
<div class="bar b" style="left:938px;top:176px;width:50px;height:233px"></div>

<!-- axes -->
<div class="ax" style="left:0;top:410px;width:328px"></div>
<div class="ax" style="left:357px;top:409px;width:344px"></div>
<div class="ax" style="left:731px;top:410px;width:310px"></div>

<!-- values -->
<div style="position:absolute;left:54px;top:0;width:52.7px;height:452px;overflow:hidden"><div class="v" style="left:2.02px;top:274.8px;transform:scaleX(1.1)">62,849</div></div>
<div style="position:absolute;left:219px;top:0;width:52px;height:452px;overflow:hidden"><div class="v" style="left:5.48px;top:259.85px;transform:scaleX(0.98)">70,113</div></div>
<div style="position:absolute;left:416px;top:0;width:55px;height:452px;overflow:hidden"><div class="v" style="left:5.0px;top:292.75px;transform:scaleX(1.003)">11,070</div></div>
<div style="position:absolute;left:588px;top:0;width:55px;height:452px;overflow:hidden"><div class="v" style="left:4.73px;top:272.85px;transform:scaleX(1.021)">13,039</div></div>
<div style="position:absolute;left:784px;top:0;width:48.8px;height:452px;overflow:hidden"><div class="v" style="left:4.53px;top:305.85px;transform:scaleX(1.083)">9,427</div></div>
<div style="position:absolute;left:938px;top:0;width:50px;height:452px;overflow:hidden"><div class="v" style="left:5.31px;top:286.85px;transform:scaleX(0.926)">11,226</div></div>

<!-- categories -->
<div class="c" style="left:44.46px;top:424.64px;transform:scaleX(1.101)">12M2024</div>
<div class="c" style="left:209.94px;top:424.64px;transform:scaleX(1.071)">12M2025</div>
<div class="c" style="left:407.53px;top:423.44px;transform:scaleX(1.086)">12M2024</div>
<div class="c" style="left:580.39px;top:423.44px;transform:scaleX(1.072)">12M2025</div>
<div class="c" style="left:772.52px;top:424.64px;transform:scaleX(1.1)">12M2024</div>
<div class="c" style="left:928.48px;top:424.64px;transform:scaleX(1.078)">12M2025</div>

<!-- arrows -->
<svg width="1041" height="452" viewBox="0 0 1041 452">
 <defs>
  <marker id="ah" markerWidth="8" markerHeight="8" refX="6.8" refY="3.3" orient="auto" markerUnits="userSpaceOnUse">
   <path d="M0,0 L7.2,3.3 L0,6.6 Z" fill="#1a9c55"/>
  </marker>
 </defs>
 <g stroke="#1a9c55" stroke-width="2" fill="none">
  <line x1="110" y1="156" x2="217" y2="126" marker-end="url(#ah)"/>
  <line x1="472" y1="190" x2="585" y2="155.6" marker-end="url(#ah)"/>
  <line x1="834" y1="213.5" x2="933" y2="181.4" marker-end="url(#ah)"/>
 </g>
</svg>

<!-- growth -->
<div class="g" style="left:130.6px;top:120.1px;transform:rotate(-14.5deg) scaleX(0.96)">+11.6%</div>
<div class="g" style="left:498.3px;top:153.6px;transform:rotate(-16deg) scaleX(1.02)">+17.8%</div>
<div class="g" style="left:853px;top:178px;transform:rotate(-18deg) scaleX(0.93)">+19.1%</div>
</body>
</html>
